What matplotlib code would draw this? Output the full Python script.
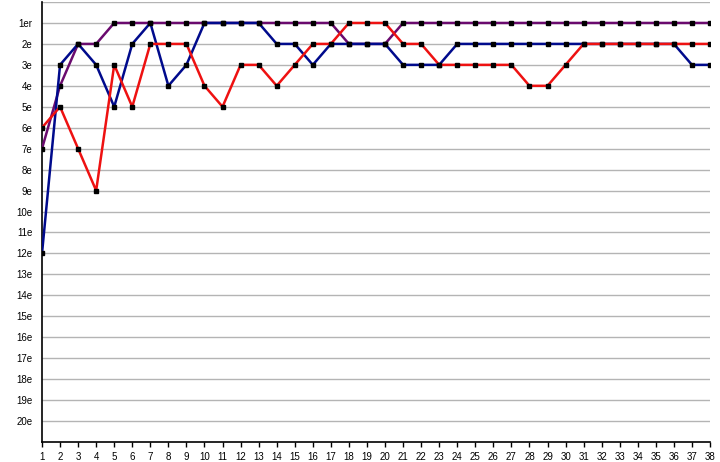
import matplotlib
matplotlib.use("Agg")
import matplotlib.pyplot as plt

plt.rcParams['font.family'] = ['Liberation Sans', 'DejaVu Sans']

journees = list(range(1, 39))
rang_labels = ['1er'] + ['%de' % i for i in range(2, 21)]

# classement par journee
violet = [7, 4, 2, 2, 1, 1, 1, 1, 1, 1, 1, 1, 1, 1, 1, 1, 1, 2, 2, 2,
          1, 1, 1, 1, 1, 1, 1, 1, 1, 1, 1, 1, 1, 1, 1, 1, 1, 1]
bleu = [12, 3, 2, 3, 5, 2, 1, 4, 3, 1, 1, 1, 1, 2, 2, 3, 2, 2, 2, 2,
        3, 3, 3, 2, 2, 2, 2, 2, 2, 2, 2, 2, 2, 2, 2, 2, 3, 3]
rouge = [6, 5, 7, 9, 3, 5, 2, 2, 2, 4, 5, 3, 3, 4, 3, 2, 2, 1, 1, 1,
         2, 2, 3, 3, 3, 3, 3, 4, 4, 3, 2, 2, 2, 2, 2, 2, 2, 2]

fig = plt.figure(figsize=(7.2, 4.62), dpi=100)
ax = fig.add_axes([42 / 720, 1 - 442 / 462, 668 / 720, 440 / 462])

for serie, col in [(violet, '#6a0a6e'), (bleu, '#000a8c'), (rouge, '#ee1111')]:
    ax.plot(journees, serie, color=col, lw=1.8, marker='s', ms=3.2,
            mfc='black', mec='black', zorder=3)

ax.set_xlim(1, 38)
ax.set_ylim(21, 0)
ax.set_xticks(journees)
ax.set_xticklabels([str(j) for j in journees], fontsize=7)
ax.set_yticks(range(0, 21))
ax.set_yticklabels([''] + rang_labels, fontsize=7)
ax.tick_params(axis='y', length=0, pad=7)
ax.tick_params(axis='x', length=3.5, width=1, direction='out', pad=4)
ax.grid(axis='y', color='#b4b4b4', lw=1)
ax.set_axisbelow(True)
for s in ['top', 'right']:
    ax.spines[s].set_visible(False)
ax.spines['left'].set_linewidth(1.2)
ax.spines['bottom'].set_linewidth(1.2)

fig.savefig('out.png', dpi=100)
